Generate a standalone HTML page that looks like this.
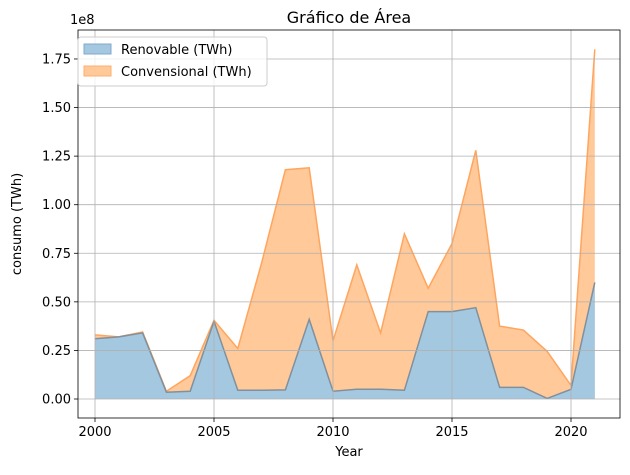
<!DOCTYPE html>
<html><head><meta charset="utf-8"><style>
body{margin:0;background:#fff;font-family:"Liberation Sans","DejaVu Sans",sans-serif}
svg text{font-family:"DejaVu Sans","Liberation Sans",sans-serif}
</style></head><body>
<svg id="chart" width="630" height="470" xmlns="http://www.w3.org/2000/svg"></svg>
<script>
const years=[2000,2001,2002,2003,2004,2005,2006,2007,2008,2009,2010,2011,2012,2013,2014,2015,2016,2017,2018,2019,2020,2021];
const renovable=[0.31,0.32,0.34,0.035,0.04,0.40,0.045,0.045,0.047,0.41,0.04,0.05,0.05,0.045,0.45,0.45,0.47,0.06,0.06,0.003,0.05,0.60];
const convencional=[0.33,0.32,0.345,0.04,0.12,0.405,0.26,0.70,1.18,1.19,0.30,0.69,0.34,0.85,0.57,0.80,1.28,0.375,0.355,0.245,0.07,1.80];
const xTicks=[2000,2005,2010,2015,2020];
const yTicks=[0,0.25,0.5,0.75,1.0,1.25,1.5,1.75];
const yTickLabels=["0.00","0.25","0.50","0.75","1.00","1.25","1.50","1.75"];

const svg=document.getElementById('chart');
const NS='http://www.w3.org/2000/svg';
const L=78,R=620,T=30,B=418;
const X=v=>95+(v-2000)*23.8;
const Y=v=>399-v*194.3;
function mk(tag,attrs,parent){const e=document.createElementNS(NS,tag);for(const k in attrs)e.setAttribute(k,attrs[k]);(parent||svg).appendChild(e);return e;}

function areaPath(vals){let d='M'+X(years[0])+','+Y(0);years.forEach((y,i)=>{d+=' L'+X(y)+','+Y(vals[i]);});d+=' L'+X(years[years.length-1])+','+Y(0)+' Z';return d;}
function linePath(vals){return years.map((y,i)=>(i?'L':'M')+X(y)+','+Y(vals[i])).join(' ');}

const a2=mk('path',{d:areaPath(convencional),fill:'#ffc999',stroke:'none'});


const l2=mk('path',{d:linePath(convencional),fill:'none',stroke:'#ffa55e','stroke-width':1.5});


const a1=mk('path',{d:areaPath(renovable),fill:'#a5c8e1',stroke:'none'});


const l1=mk('path',{d:linePath(renovable),fill:'none',stroke:'#80909c','stroke-width':1.5});



// grid (on top of areas)
xTicks.forEach(t=>{const g=mk('line',{x1:X(t),x2:X(t),y1:T,y2:B,stroke:'#b0b0b0','stroke-width':0.8});

});
yTicks.forEach(t=>{const g=mk('line',{x1:L,x2:R,y1:Y(t),y2:Y(t),stroke:'#b0b0b0','stroke-width':0.8});

});

const fr=mk('rect',{x:L,y:T,width:R-L,height:B-T,fill:'none',stroke:'#000','stroke-width':0.8});



xTicks.forEach(t=>{mk('line',{x1:X(t),x2:X(t),y1:B,y2:B+4,stroke:'#000','stroke-width':0.8});
const tx=mk('text',{x:X(t),y:B+18,'font-size':13,'text-anchor':'middle',fill:'#000'});tx.textContent=t;

});
yTicks.forEach((t,i)=>{mk('line',{x1:L-4,x2:L,y1:Y(t),y2:Y(t),stroke:'#000','stroke-width':0.8});
const tx=mk('text',{x:L-7,y:Y(t)+4.5,'font-size':13,'text-anchor':'end',fill:'#000'});tx.textContent=yTickLabels[i];

});

const off=mk('text',{x:L-8,y:T-6,'font-size':13,fill:'#000'});off.textContent='1e8';


const title=mk('text',{x:(L+R)/2,y:T-7,'font-size':16,'text-anchor':'middle',fill:'#000'});title.textContent='Gráfico de Área';


const xl=mk('text',{x:(L+R)/2,y:456,'font-size':13,'text-anchor':'middle',fill:'#000'});xl.textContent='Year';


const yl=mk('text',{x:21,y:(T+B)/2,'font-size':13,'text-anchor':'middle',fill:'#000',transform:'rotate(-90 21 '+((T+B)/2)+')'});yl.textContent='consumo (TWh)';



const lg=mk('g',{});


mk('rect',{x:78,y:37,width:189,height:49,rx:3,fill:'#fff','fill-opacity':0.8,stroke:'#ccc'},lg);
const entries=[['Renovable (TWh)','#a5c8e1','#7fa9c9'],['Convensional (TWh)','#ffc999','#ffae6e']];
entries.forEach((e,i)=>{const g=mk('g',{},lg);


mk('rect',{x:84,y:44+i*22,width:27,height:10,fill:e[1],stroke:e[2]},g);
const t=mk('text',{x:121,y:54+i*22,'font-size':13,fill:'#000'},g);t.textContent=e[0];});
</script>
</body></html>
